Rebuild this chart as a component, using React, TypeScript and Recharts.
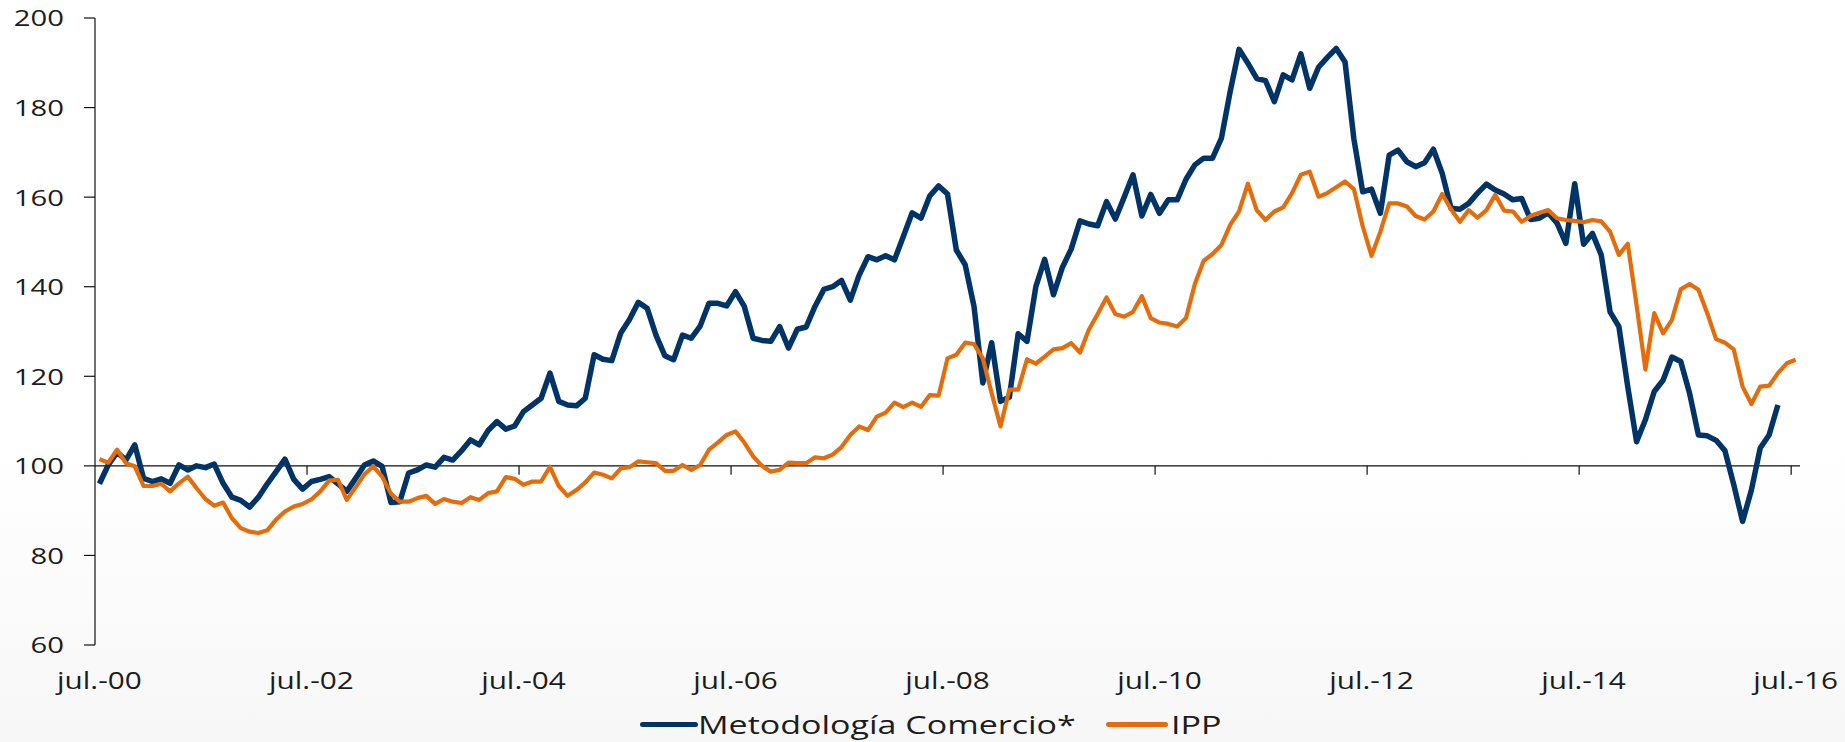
import React from "react";
import {
  LineChart,
  Line,
  XAxis,
  YAxis,
  ReferenceLine,
} from "recharts";

// Monthly index values, jul-00 .. jul-16 (one value per month)
const COMERCIO = [
  96, 100.2, 103, 101.3, 104.7, 97.2, 96.5, 97.1, 96.1, 100.2, 99.1, 100,
  99.6, 100.4, 96.1, 93, 92.3, 90.8, 93, 96, 98.7, 101.5, 97, 94.8,
  96.5, 97, 97.6, 96, 94.3, 97.2, 100.2, 101.1, 99.9, 91.8, 92, 98.4,
  99.1, 100.2, 99.7, 101.9, 101.3, 103.4, 105.8, 104.7, 107.9, 109.9, 108.2, 108.9,
  112.1, 113.6, 115.1, 120.7, 114.4, 113.6, 113.4, 115.1, 124.8, 123.8, 123.5, 129.6,
  132.7, 136.5, 135.2, 129.2, 124.6, 123.7, 129.2, 128.5, 131.2, 136.3, 136.3, 135.7,
  138.9, 135.6, 128.5, 128, 127.8, 131.1, 126.3, 130.5, 131, 135.6, 139.4, 140,
  141.4, 137, 142.6, 146.7, 146, 146.9, 146, 151.2, 156.5, 155.3, 160.3, 162.5,
  160.7, 148.2, 144.9, 135.6, 118.5, 127.5, 114.4, 115.3, 129.5, 127.8, 140, 146.1,
  138.2, 144.3, 148.4, 154.7, 154, 153.6, 159, 155.1, 160, 165, 155.8, 160.6,
  156.4, 159.4, 159.4, 164, 167.2, 168.7, 168.7, 173.1, 183.6, 193, 189.9, 186.5,
  186, 181.3, 187.3, 186.2, 192, 184.3, 189, 191.2, 193.2, 190.2, 173, 161.2,
  161.8, 156.4, 169.4, 170.5, 167.9, 166.8, 167.7, 170.7, 165.3, 157.5, 157.3, 158.6,
  160.9, 162.9, 161.6, 160.7, 159.4, 159.7, 155, 155.3, 156.5, 154.2, 149.7, 163,
  149.5, 151.9, 147.1, 134.4, 131.1, 117.7, 105.4, 110.3, 116.6, 119.1, 124.3, 123.3,
  116.2, 106.9, 106.7, 105.7, 103.4, 95.8, 87.6, 94.6, 104, 106.9, 113.6,
];

const IPP = [
  101.5, 100.7, 103.6, 100.6, 99.9, 95.5, 95.5, 96, 94.3, 96.1, 97.6, 95,
  92.6, 91.1, 91.8, 88.3, 86.1, 85.3, 85, 85.6, 88, 89.8, 90.9, 91.5,
  92.5, 94.3, 96.7, 96.9, 92.4, 95.2, 98.1, 99.9, 97.6, 93.8, 92, 92,
  92.8, 93.3, 91.5, 92.6, 92, 91.7, 93, 92.4, 93.9, 94.3, 97.5, 97.1,
  95.8, 96.5, 96.5, 99.8, 95.5, 93.3, 94.6, 96.3, 98.5, 98, 97.2, 99.4,
  99.7, 101, 100.8, 100.6, 98.9, 98.9, 100.2, 99.1, 100.2, 103.6, 105.2, 106.9,
  107.7, 105.2, 102.1, 100, 98.7, 99.1, 100.7, 100.6, 100.6, 101.9, 101.7, 102.5,
  104.2, 106.9, 108.8, 108, 111, 111.9, 114.1, 113.1, 114.1, 113.2, 115.8, 115.7,
  124, 124.8, 127.5, 127.2, 124, 116.2, 108.8, 117, 117, 123.8, 122.8, 124.4,
  126, 126.3, 127.4, 125.3, 130.4, 133.9, 137.6, 133.9, 133.3, 134.4, 137.9, 133,
  132, 131.7, 131.1, 133, 140.6, 145.8, 147.3, 149.3, 153.8, 156.8, 163, 157.1,
  154.9, 156.8, 157.7, 160.9, 165, 165.7, 160.1, 160.9, 162.2, 163.5, 161.8, 153.5,
  146.9, 152.3, 158.6, 158.6, 157.9, 155.8, 155, 156.8, 160.7, 157.3, 154.5, 157.1,
  155.4, 157.1, 160.5, 157, 156.8, 154.5, 155.8, 156.5, 157.1, 155.3, 154.9, 154.7,
  154.4, 154.9, 154.6, 152.3, 147.1, 149.6, 135.9, 121.5, 134.1, 129.6, 132.6, 139.4,
  140.6, 139.3, 134.1, 128.3, 127.5, 126, 117.7, 113.8, 117.7, 117.9, 120.7, 122.9,
  123.7,
];

const X_TICKS = [0, 24, 48, 72, 96, 120, 144, 168, 192];
const X_LABELS = [
  "jul.-00",
  "jul.-02",
  "jul.-04",
  "jul.-06",
  "jul.-08",
  "jul.-10",
  "jul.-12",
  "jul.-14",
  "jul.-16",
];
const Y_TICKS = [60, 80, 100, 120, 140, 160, 180, 200];

const SERIES = [
  { key: "comercio", name: "Metodología Comercio*", color: "#003366", width: 5.5 },
  { key: "ipp", name: "IPP", color: "#E46C0A", width: 4.2 },
];

const FONT = "'Open Sans', sans-serif";
const TEXT_COLOR = "#1c1c1c";

const data = IPP.map((v, i) => ({
  i,
  ipp: v,
  comercio: i < COMERCIO.length ? COMERCIO[i] : null,
}));

/**
 * Y axis label, stretched a bit like the original slide font
 */
const YTick: React.FC<any> = ({ x, y, payload }) => (
  <text
    transform={`translate(${x},${y}) scale(1.33,1)`}
    textAnchor="end"
    dominantBaseline="central"
    fontFamily={FONT}
    fontSize={22}
    fill={TEXT_COLOR}
  >
    {payload.value}
  </text>
);

const XTick: React.FC<any> = ({ x, y, payload }) => {
  const idx = X_TICKS.indexOf(payload.value);
  return (
    <text
      transform={`translate(${x},${y + 44}) scale(1.24,1)`}
      textAnchor="middle"
      fontFamily={FONT}
      fontSize={24}
      fill={TEXT_COLOR}
    >
      {X_LABELS[idx]}
    </text>
  );
};

const legendText: React.CSSProperties = {
  position: "absolute",
  top: 707,
  fontSize: 25,
  lineHeight: "34px",
  color: TEXT_COLOR,
  whiteSpace: "nowrap",
  transform: "scaleX(1.36)",
  transformOrigin: "left center",
};

export default function App() {
  return (
    <div
      style={{
        position: "absolute",
        left: 0,
        top: 0,
        width: 1845,
        height: 742,
        background:
          "linear-gradient(to bottom, #ffffff 0%, #ffffff 60%, #f7f7f7 100%)",
        fontFamily: FONT,
        overflow: "hidden",
      }}
    >
      <LineChart
        width={1845}
        height={742}
        data={data}
        margin={{ top: 18, right: 45, left: 0, bottom: 37 }}
      >
        <XAxis
          dataKey="i"
          type="number"
          domain={[-0.5, 192.5]}
          ticks={X_TICKS}
          interval={0}
          axisLine={false}
          tickLine={false}
          tickSize={0}
          tickMargin={0}
          height={60}
          tick={<XTick />}
        />
        <YAxis
          domain={[60, 200]}
          ticks={Y_TICKS}
          interval={0}
          width={95}
          axisLine={{ stroke: "#111", strokeWidth: 1.2 }}
          tickLine={{ stroke: "#111", strokeWidth: 1.2 }}
          tickSize={11}
          tickMargin={20}
          tick={<YTick />}
        />
        <ReferenceLine y={100} stroke="#111" strokeWidth={1.2} />
        {X_TICKS.slice(1).map((t) => (
          <ReferenceLine
            key={t}
            segment={[
              { x: t - 0.5, y: 100 },
              { x: t - 0.5, y: 98 },
            ]}
            stroke="#111"
            strokeWidth={1.2}
          />
        ))}
        {SERIES.map((s) => (
          <Line
            key={s.key}
            type="linear"
            dataKey={s.key}
            name={s.name}
            stroke={s.color}
            strokeWidth={s.width}
            strokeLinejoin="round"
            dot={false}
            activeDot={false}
            isAnimationActive={false}
          />
        ))}
      </LineChart>

      {/* legend */}
      <div style={{ position: "absolute", left: 640, top: 722, width: 58, height: 5, borderRadius: 3, background: SERIES[0].color }} />
      <span style={{ ...legendText, left: 698 }}>{SERIES[0].name}</span>
      <div style={{ position: "absolute", left: 1106, top: 722, width: 62, height: 5, borderRadius: 3, background: SERIES[1].color }} />
      <span style={{ ...legendText, left: 1171 }}>{SERIES[1].name}</span>
    </div>
  );
}
